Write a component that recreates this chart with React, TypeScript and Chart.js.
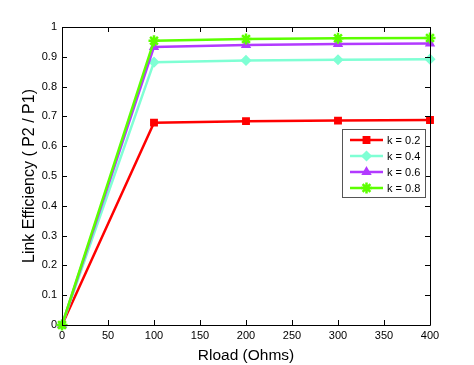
import React, { useEffect, useRef } from 'react';
import { Chart, registerables } from 'chart.js';
import { drawPoint } from 'chart.js/helpers';
Chart.register(...registerables);

const xValues = [0, 100, 200, 300, 400];
const k02 = [0, 0.679, 0.684, 0.686, 0.688];
const k04 = [0, 0.882, 0.888, 0.890, 0.892];
const k06 = [0, 0.933, 0.940, 0.943, 0.945];
const k08 = [0, 0.954, 0.960, 0.962, 0.963];
const seriesLabels = ['k = 0.2', 'k = 0.4', 'k = 0.6', 'k = 0.8'];
const seriesColors = ['#ff0000', '#7fffd4', '#b23aff', '#5cff00'];
const seriesMarkers = ['rect', 'rectRot', 'triangle', 'star'];
const xTickValues = [0, 50, 100, 150, 200, 250, 300, 350, 400];
const yTickValues = [0, 0.1, 0.2, 0.3, 0.4, 0.5, 0.6, 0.7, 0.8, 0.9, 1];
const xTitle = 'Rload (Ohms)';
const yTitle = 'Link Efficiency ( P2 / P1)';

const FONT = '"Liberation Sans", Arial, Helvetica, sans-serif';

const framePlugin = {
  id: 'frame',
  afterDraw(chart: any) {
    const { ctx, chartArea } = chart;
    const { left, right, top, bottom } = chartArea;
    const xs = chart.scales.x;
    const ys = chart.scales.y;
    ctx.save();
    ctx.strokeStyle = '#000';
    ctx.lineWidth = 1;
    ctx.beginPath();
    ctx.rect(Math.round(left) + 0.5, Math.round(top) + 0.5, Math.round(right - left), Math.round(bottom - top));
    const tl = 5;
    xTickValues.forEach((v) => {
      const px = Math.round(xs.getPixelForValue(v)) + 0.5;
      ctx.moveTo(px, bottom);
      ctx.lineTo(px, bottom - tl);
      ctx.moveTo(px, top);
      ctx.lineTo(px, top + tl);
    });
    yTickValues.forEach((v) => {
      const py = Math.round(ys.getPixelForValue(v)) + 0.5;
      ctx.moveTo(left, py);
      ctx.lineTo(left + tl, py);
      ctx.moveTo(right, py);
      ctx.lineTo(right - tl, py);
    });
    ctx.stroke();

    // legend
    const bx = 342.5, by = 129.5, bw = 83, bh = 68;
    ctx.fillStyle = '#fff';
    ctx.fillRect(bx, by, bw, bh);
    ctx.strokeStyle = '#555';
    ctx.lineWidth = 1;
    ctx.strokeRect(bx, by, bw, bh);
    const rows = [140, 156, 172, 188];
    chart.data.datasets.forEach((ds: any, i: number) => {
      const y = rows[i];
      ctx.strokeStyle = ds.borderColor;
      ctx.lineWidth = 2.5;
      ctx.beginPath();
      ctx.moveTo(350, y);
      ctx.lineTo(383, y);
      ctx.stroke();
      ctx.fillStyle = ds.pointBackgroundColor;
      ctx.strokeStyle = ds.borderColor;
      ctx.lineWidth = ds.pointBorderWidth;
      drawPoint(ctx, { pointStyle: ds.pointStyle, radius: ds.pointRadius, borderWidth: ds.pointBorderWidth, rotation: 0 } as any, 366.5, y);
      ctx.fillStyle = '#000';
      ctx.font = '11px ' + FONT;
      ctx.textBaseline = 'middle';
      ctx.textAlign = 'left';
      ctx.fillText(ds.label, 387, y + 0.5);
    });
    ctx.restore();
  },
};

export default function App() {
  const ref = useRef<HTMLCanvasElement>(null);
  useEffect(() => {
    document.body.style.margin = '0';
    const datasets = [k02, k04, k06, k08].map((vals, i) => ({
      label: seriesLabels[i],
      data: xValues.map((x, j) => ({ x, y: vals[j] })),
      borderColor: seriesColors[i],
      backgroundColor: seriesColors[i],
      pointBackgroundColor: seriesColors[i],
      pointBorderColor: seriesColors[i],
      pointStyle: seriesMarkers[i],
      pointRadius: i === 3 ? 5.5 : 4.5,
      pointBorderWidth: i === 3 ? 2.5 : 1.5,
      borderWidth: 2.5,
      tension: 0,
      order: 3 - i,
      clip: false as any,
    }));
    const chart = new Chart(ref.current!, {
      type: 'line',
      data: { datasets },
      options: {
        animation: false,
        responsive: false,
        devicePixelRatio: 1,
        layout: { padding: { left: 0, right: 44, top: 27, bottom: 0 } },
        plugins: { legend: { display: false }, tooltip: { enabled: false } },
        scales: {
          x: {
            type: 'linear',
            min: 0,
            max: 400,
            afterBuildTicks: (s: any) => { s.ticks = xTickValues.map((v) => ({ value: v })); },
            afterFit: (s: any) => { s.height = 40; },
            grid: { display: false, drawTicks: false },
            border: { display: false },
            ticks: { color: '#000', font: { family: FONT, size: 11 }, padding: 4, maxRotation: 0, autoSkip: false },
            title: { display: true, text: xTitle, color: '#000', font: { family: FONT, size: 15.5 }, padding: { top: 0, bottom: 0 } },
          },
          y: {
            type: 'linear',
            min: 0,
            max: 1,
            afterBuildTicks: (s: any) => { s.ticks = yTickValues.map((v) => ({ value: v })); },
            afterFit: (s: any) => { s.width = 62; },
            grid: { display: false, drawTicks: false },
            border: { display: false },
            ticks: {
              color: '#000',
              font: { family: FONT, size: 11 },
              padding: 5,
              autoSkip: false,
              callback: (v: any) => String(Number(Number(v).toFixed(1))),
            },
            title: { display: true, text: yTitle, color: '#000', font: { family: FONT, size: 16 }, padding: { top: 20, bottom: 0 } },
          },
        },
      },
      plugins: [framePlugin],
    });
    return () => chart.destroy();
  }, []);
  return (
    <div style={{ position: 'fixed', left: 0, top: 0, width: 474, height: 365, background: '#fff' }}>
      <canvas ref={ref} width={474} height={365} style={{ width: 474, height: 365 }} />
    </div>
  );
}
